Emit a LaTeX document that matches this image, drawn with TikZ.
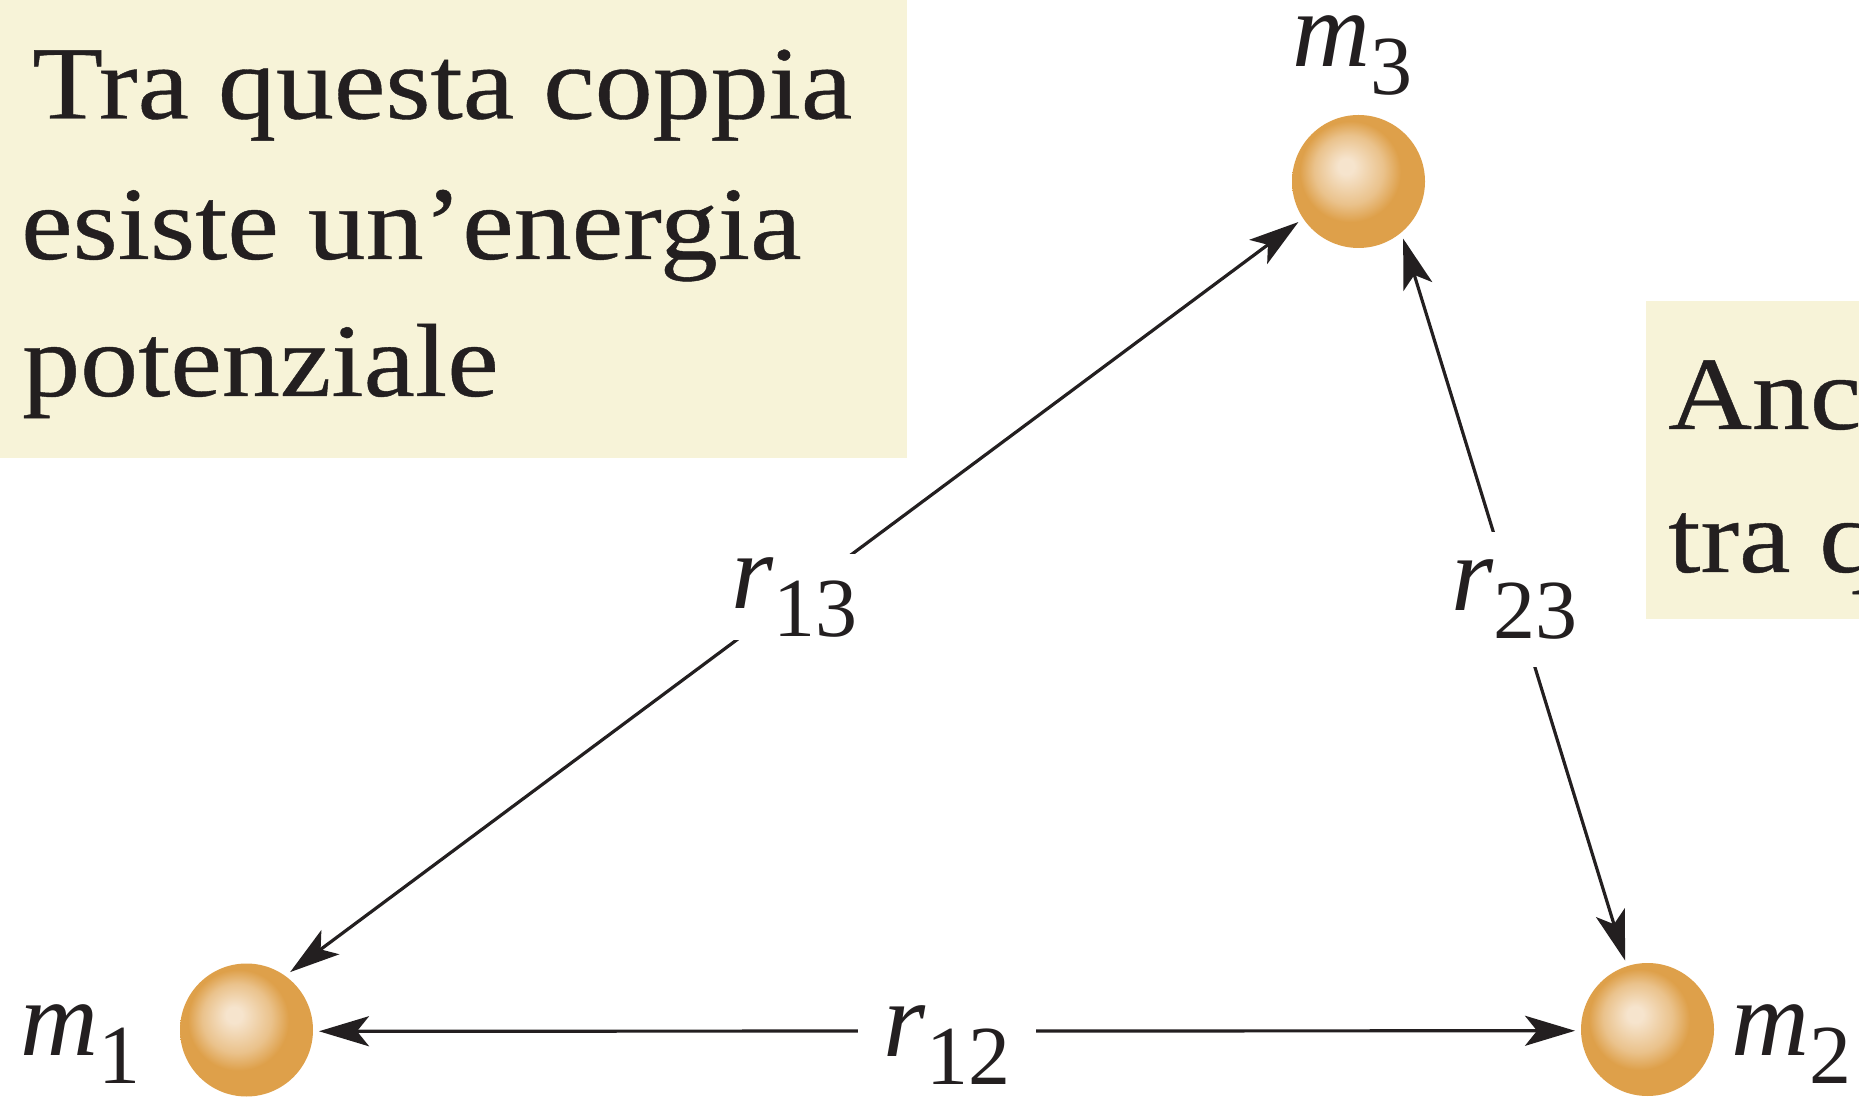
\documentclass[tikz,border=0pt]{standalone}
\usepackage{fontspec}
\setmainfont{Liberation Serif}
\newfontfamily\boxfont[FakeStretch=1.115,FakeBold=0.4]{Liberation Serif}
\usetikzlibrary{arrows.meta}
\definecolor{cream}{RGB}{247,243,216}
\definecolor{ink}{RGB}{35,31,32}
\definecolor{orng}{RGB}{222,160,74}
\definecolor{hl}{RGB}{246,228,205}
\pgfdeclareradialshading{sphereshade}{\pgfpoint{-5bp}{6bp}}{color(0bp)=(hl); color(3bp)=(hl); color(13bp)=(orng!50!hl); color(19bp)=(orng); color(50bp)=(orng)}
\newcommand\boxsz{\fontsize{104pt}{139pt}\selectfont}
\newcommand\labsz{\fontsize{108pt}{120pt}\selectfont}
\newcommand\subsz{\fontsize{84pt}{90pt}\selectfont}
\newcommand\msym[2]{{\labsz\itshape #1}\raisebox{-28pt}{\subsz #2}}
\tikzset{
  sphere/.style={circle, minimum size=133pt, inner sep=0pt, outer sep=6pt, shading=sphereshade},
  conn/.style={draw=ink, line width=3.2pt, {Stealth[length=50pt,width=30pt,inset=12pt]}-{Stealth[length=50pt,width=30pt,inset=12pt]}},
  lbl/.style={fill=white, text=ink, inner sep=0pt},
  mlab/.style={anchor=base west, inner sep=0pt, text=ink},
  boxtext/.style={anchor=base west, inner sep=0pt, text=ink, font=\boxfont\boxsz},
  notebox/.style={fill=cream, draw=none}
}
\begin{document}
\begin{tikzpicture}[x=1pt,y=1pt]
\useasboundingbox (0,0) rectangle (1859,1098);
% note boxes
\fill[notebox] (0,640) rectangle (907,1098);
\fill[notebox] (1646,479) rectangle (1859,797);
\node[boxtext] (t1) at (32,979.5) {Tra questa coppia};
\node[boxtext] (t2) at (21,839) {esiste un’energia};
\node[boxtext] (t3) at (22,702) {potenziale};
\begin{scope}
\clip (0,0) rectangle (1859,1098);
\node[boxtext] (a2) at (1668,669) {Anche};
\node[boxtext] (b2) at (1668,526) {tra questa};
\end{scope}
% spheres
\node[sphere] (m1) at (246.5,68) {};
\node[sphere] (m2) at (1647.5,68.5) {};
\node[sphere] (m3) at (1358.5,916.5) {};
% mass labels
\node[mlab] (lm1) at (20,43) {\msym{m}{1}};
\node[mlab] (lm2) at (1731,43) {\msym{m}{2}};
\node[mlab] (lm3) at (1292,1031) {\msym{m}{3}};
% connectors
\draw[conn] (m1.-1.5) -- node[lbl, pos=0.5, yshift=-14pt, inner xsep=26pt, inner ysep=4pt] (r12) {\msym{r}{12}} (m2.181.5);
\draw[conn] (m1.53) -- node[lbl, pos=0.5, inner xsep=0pt, inner ysep=3pt] (r13) {\msym{r}{13}} (m3.214);
\draw[conn] (m3.308.5) -- node[lbl, pos=0.5, inner xsep=4pt, inner ysep=28pt] (r23) {\msym{r}{23}} (m2.108.6);
\end{tikzpicture}
\end{document}
